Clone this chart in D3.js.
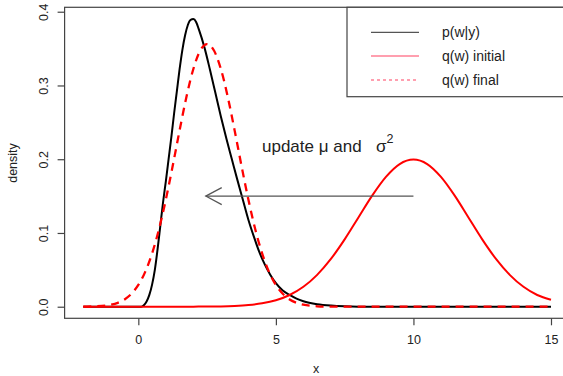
<!DOCTYPE html>
<html>
<head>
<meta charset="utf-8">
<script src="https://cdn.jsdelivr.net/npm/d3@7"></script>
<style>
  html, body { margin: 0; padding: 0; background: #fff; }
  svg text { font-family: "Liberation Sans", Arial, Helvetica, sans-serif; fill: #222; }
</style>
</head>
<body>
<svg id="chart" width="563" height="376"></svg>
<script>
// Posterior density p(w|y)
const postX = [-2, 0, 0.1, 0.2, 0.3, 0.4, 0.5, 0.6, 0.7, 0.8, 0.9, 1.0, 1.1, 1.2, 1.3, 1.4, 1.5, 1.6, 1.7, 1.8, 1.9, 2.0,
               2.1, 2.2, 2.4, 2.6, 2.8, 3.0, 3.2, 3.4, 3.6, 3.8, 4.0, 4.2, 4.4, 4.6, 4.8, 5.0, 5.25, 5.5, 5.75, 6.0,
               6.5, 7.0, 7.5, 8.0, 9.0, 15];
const postY = [0, 0, 0, 0.002, 0.007, 0.016, 0.030, 0.050, 0.078, 0.110, 0.142, 0.170, 0.200, 0.230, 0.262, 0.292, 0.322, 0.348, 0.368, 0.382, 0.389, 0.390,
               0.386, 0.376, 0.352, 0.322, 0.290, 0.258, 0.228, 0.200, 0.172, 0.145, 0.118, 0.095, 0.074, 0.057, 0.043, 0.032, 0.022, 0.016, 0.011, 0.0075,
               0.0035, 0.0015, 0.0005, 0.0001, 0, 0];

// Initial approximation q(w)
const initX = [-2, 1.5, 2.0, 2.5, 3.0, 3.5, 4.0, 4.5, 5.0, 5.5, 6.0, 6.5, 7.0, 7.5, 8.0, 8.5, 9.0, 9.5, 10.0,
               10.5, 11.0, 11.5, 12.0, 12.5, 13.0, 13.5, 14.0, 14.5, 15.0];
const initY = [0, 0, 0.0001, 0.0002, 0.0004, 0.0010, 0.0022, 0.0046, 0.0088, 0.0159, 0.0270, 0.0432, 0.0648, 0.0913, 0.1210, 0.1506, 0.1760, 0.1934, 0.1995,
               0.1934, 0.1760, 0.1506, 0.1210, 0.0913, 0.0648, 0.0432, 0.0270, 0.0159, 0.0095];

// Final approximation q(w)
const finalX = [-2, -1.5, -1.0, -0.75, -0.5, -0.25, 0, 0.25, 0.5, 0.75, 1.0, 1.25, 1.5, 1.75, 2.0, 2.25, 2.5,
                2.75, 3.0, 3.25, 3.5, 3.75, 4.0, 4.25, 4.5, 4.75, 5.0, 5.25, 5.5, 5.75, 6.0, 6.5, 7.0, 8.0, 15];
const finalY = [0.0001, 0.0006, 0.0027, 0.0053, 0.0099, 0.0175, 0.0295, 0.0473, 0.0723, 0.1051, 0.1453, 0.1911, 0.2391, 0.2847, 0.3224, 0.3474, 0.3562,
                0.3474, 0.3224, 0.2847, 0.2391, 0.1911, 0.1453, 0.1051, 0.0723, 0.0473, 0.0295, 0.0175, 0.0099, 0.0053, 0.0027, 0.0006, 0.0001, 0, 0];

const xTicks = [0, 5, 10, 15];
const yTicks = [0.0, 0.1, 0.2, 0.3, 0.4];
const legendLabels = ["p(w|y)", "q(w) initial", "q(w) final"];

const svg = d3.select("#chart");
const box = { left: 64.6, right: 569.7, top: 7.3, bottom: 318.3 };

const x = d3.scaleLinear().domain([-2.68, 15.68]).range([box.left, box.right]);
const y = d3.scaleLinear().domain([-0.0157, 0.406]).range([box.bottom, box.top]);

svg.append("rect").attr("width", 563).attr("height", 376).attr("fill", "#fff");

// Curves
const line = d3.line().x(d => x(d[0])).y(d => y(d[1])).curve(d3.curveMonotoneX);
const zip = (a, b) => a.map((v, i) => [v, b[i]]);

svg.append("path").attr("d", line(zip(postX, postY)))
  .attr("fill", "none").attr("stroke", "#000").attr("stroke-width", 2);
svg.append("path").attr("d", line(zip(initX, initY)))
  .attr("fill", "none").attr("stroke", "#ff0000").attr("stroke-width", 2);
svg.append("path").attr("d", line(zip(finalX, finalY)))
  .attr("fill", "none").attr("stroke", "#ff0000").attr("stroke-width", 2.3)
  .attr("stroke-dasharray", "8,6");

// Plot frame
svg.append("rect")
  .attr("x", box.left).attr("y", box.top)
  .attr("width", box.right - box.left).attr("height", box.bottom - box.top)
  .attr("fill", "none").attr("stroke", "#444").attr("stroke-width", 1.2);

// Axes
const xAxis = svg.append("g").attr("transform", `translate(0,${box.bottom})`)
  .call(d3.axisBottom(x).tickValues(xTicks).tickSize(7).tickPadding(10).tickFormat(d3.format("d")));
xAxis.select(".domain").remove();
xAxis.selectAll(".tick line").attr("stroke", "#444").attr("stroke-width", 1.2);
xAxis.selectAll(".tick text").attr("font-size", 12.5).attr("fill", "#222")
  .attr("font-family", "Liberation Sans, Arial, sans-serif");

const yAxis = svg.append("g").attr("transform", `translate(${box.left},0)`)
  .call(d3.axisLeft(y).tickValues(yTicks).tickSize(7).tickFormat(d3.format(".1f")));
yAxis.select(".domain").remove();
yAxis.selectAll(".tick line").attr("stroke", "#444").attr("stroke-width", 1.2);
yAxis.selectAll(".tick text")
  .attr("x", null).attr("dy", null)
  .attr("text-anchor", "middle")
  .attr("transform", "translate(-16.5,0) rotate(-90)")
  .attr("font-size", 12.5).attr("fill", "#222")
  .attr("font-family", "Liberation Sans, Arial, sans-serif");

// Axis titles
svg.append("text").attr("x", 316).attr("y", 373).attr("text-anchor", "middle")
  .attr("font-size", 12.5).text("x");
svg.append("text").attr("transform", "translate(17,163) rotate(-90)").attr("text-anchor", "middle")
  .attr("font-size", 12.5).text("density");

// Arrow from the initial mean towards the posterior
const arrowY = 0.15;
const ay = y(arrowY);
const ax0 = x(10), ax1 = x(2.45);
const arrow = svg.append("g").attr("stroke", "#555").attr("stroke-width", 1.2).attr("fill", "none");
arrow.append("line").attr("x1", ax0).attr("y1", ay).attr("x2", ax1).attr("y2", ay);
arrow.append("path").attr("d", `M${ax1 + 16},${ay - 8.5} L${ax1},${ay} L${ax1 + 16},${ay + 8.5}`);

// Annotation
const note = svg.append("text").attr("x", 262).attr("y", 152).attr("font-size", 17).attr("fill", "#111");
note.append("tspan").text("update ");
note.append("tspan").text("\u03bc");
note.append("tspan").text(" and");
note.append("tspan").attr("x", 376).text("\u03c3");
note.append("tspan").attr("dy", -9).attr("font-size", 12.5).text("2");

// Legend
svg.append("rect").attr("x", 347).attr("y", box.top)
  .attr("width", box.right - 347).attr("height", 96.7 - box.top)
  .attr("fill", "#fff").attr("stroke", "#444").attr("stroke-width", 1.2);
const legendStyles = [
  { color: "#555", dash: null },
  { color: "#ff4060", dash: null },
  { color: "#ff4060", dash: "3,3" }
];
const rowsY = [32.3, 56, 80];
legendLabels.forEach((lab, i) => {
  const ln = svg.append("line").attr("x1", 371).attr("x2", 419)
    .attr("y1", rowsY[i]).attr("y2", rowsY[i])
    .attr("stroke", legendStyles[i].color).attr("stroke-width", 1.2);
  if (legendStyles[i].dash) ln.attr("stroke-dasharray", legendStyles[i].dash);
  svg.append("text").attr("x", 442).attr("y", rowsY[i]).attr("dy", "0.35em")
    .attr("font-size", 14).attr("fill", "#111").text(lab);
});
</script>
</body>
</html>
